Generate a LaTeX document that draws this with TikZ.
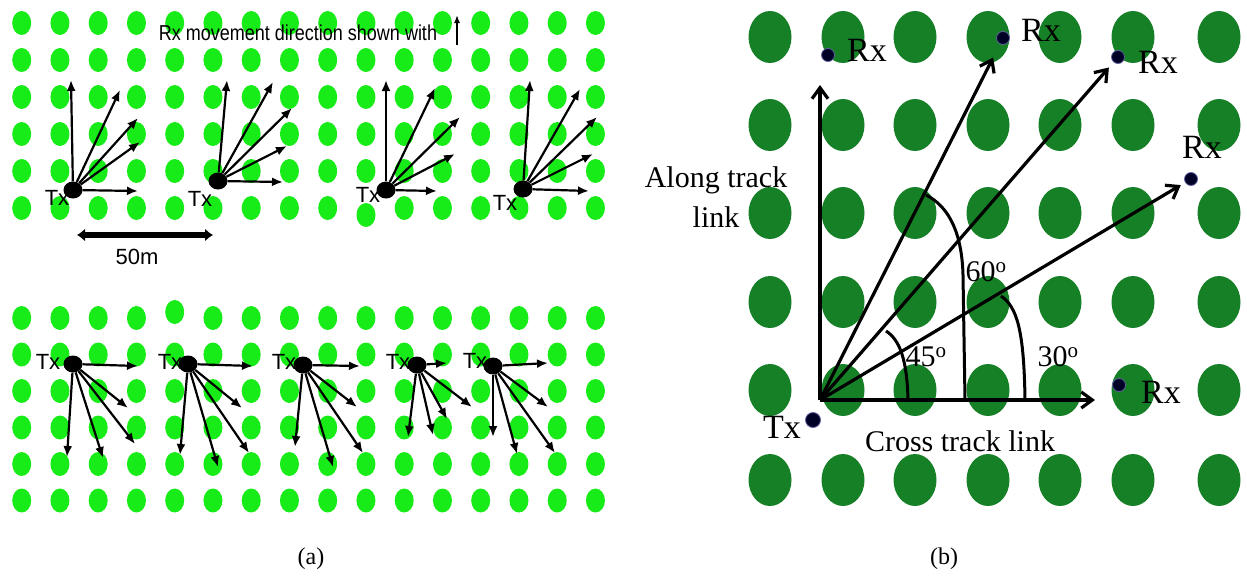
\documentclass[tikz,border=0pt]{standalone}
\usepackage{fontspec}
\setmainfont{Liberation Serif}
\newfontfamily\arialfont{Liberation Sans}
\usetikzlibrary{arrows.meta}
\definecolor{leafgreen}{RGB}{24,236,24}
\definecolor{treegreen}{RGB}{22,128,38}
\tikzset{
  txdot/.style={ellipse,fill=black,inner sep=0pt,minimum width=19pt,minimum height=17pt},
  rxdot/.style={circle,fill=black!85!blue,draw=blue!25!gray,line width=0.8pt,inner sep=0pt,minimum size=13pt},
  ray/.style={line width=2.2pt,-{Latex[length=11pt,width=9pt]}},
  axis/.style={line width=3.2pt,-{Straight Barb[length=11pt,width=16pt]}},
  arcline/.style={line width=3pt},
  smalltext/.style={font=\arialfont\fontsize{18}{20}\selectfont,inner sep=0pt},
  txtext/.style={font=\arialfont\fontsize{22}{24}\selectfont,inner sep=0pt},
  bigtext/.style={font=\fontsize{30}{40}\selectfont,inner sep=0pt},
  rxtext/.style={font=\fontsize{34}{40}\selectfont,inner sep=0pt},
  captext/.style={font=\fontsize{24}{28}\selectfont,inner sep=0pt}
}
\usetikzlibrary{shapes.geometric}
\begin{document}
\begin{tikzpicture}[x=1pt,y=-1pt]
\useasboundingbox (0,0) rectangle (1247,576);
% (a) upper field
\foreach \i in {0,...,15}
  \foreach \j in {0,...,4}
    \fill[leafgreen] (21.7+38.25*\i,23+37*\j) ellipse (9.5pt and 12pt);
\foreach \i in {0,...,8,10,11,...,15}
  \fill[leafgreen] (21.7+38.25*\i,208) ellipse (9.5pt and 12pt);
\fill[leafgreen] (366,215) ellipse (9.5pt and 12pt);
% (a) lower field
\foreach \i in {0,...,3,5,6,...,15}
  \fill[leafgreen] (21.7+38.25*\i,318) ellipse (9.5pt and 12pt);
\fill[leafgreen] (174.7,312) ellipse (9.5pt and 12pt);
\foreach \i in {0,...,15}
  \foreach \j in {1,...,5}
    \fill[leafgreen] (21.7+38.25*\i,318+36.5*\j) ellipse (9.5pt and 12pt);

% movement note
\node[smalltext,yscale=1.2] (note) at (298,33) {Rx movement direction shown with};
\coordinate (mvS) at (457,45);
\coordinate (mvE) at (457,15);
\draw[line width=1.5pt,-{Latex[length=8pt,width=6pt]}] (mvS) -- (mvE);

% upper transmitters
\node[txdot] (txa1) at (73,190) {};
\node[txtext] (txa1l) at (57,198) {Tx};
\foreach \n/\ex/\ey in {1/71/80, 2/120/90, 3/138/118, 4/140/142, 5/138/191}
  {\coordinate (ea1\n) at (\ex,\ey); \draw[ray] (txa1) -- (ea1\n);}
\node[txdot] (txa2) at (218,181) {};
\node[txtext] (txa2l) at (200,199) {Tx};
\foreach \n/\ex/\ey in {1/227/80, 2/273/82, 3/292/108, 4/287/146, 5/283/182}
  {\coordinate (ea2\n) at (\ex,\ey); \draw[ray] (txa2) -- (ea2\n);}
\node[txdot] (txa3) at (386,190) {};
\node[txtext] (txa3l) at (368,195) {Tx};
\foreach \n/\ex/\ey in {1/386/80, 2/435/88, 3/460/117, 4/455/154, 5/437/191}
  {\coordinate (ea3\n) at (\ex,\ey); \draw[ray] (txa3) -- (ea3\n);}
\node[txdot] (txa4) at (523,189) {};
\node[txtext] (txa4l) at (505,203) {Tx};
\foreach \n/\ex/\ey in {1/530/80, 2/580/89, 3/597/117, 4/593/154, 5/589/191}
  {\coordinate (ea4\n) at (\ex,\ey); \draw[ray] (txa4) -- (ea4\n);}

% scale bar
\coordinate (barL) at (77,235);
\coordinate (barR) at (213,235);
\draw[line width=5.5pt,{Latex[length=8pt,width=13pt]}-{Latex[length=8pt,width=13pt]}] (barL) -- (barR);
\node[txtext] (barlbl) at (137,257) {50m};

% lower transmitters
\node[txdot] (txb1) at (73,364) {};
\node[txtext] (txb1l) at (48,362) {Tx};
\foreach \n/\ex/\ey in {1/138/366, 2/128/408, 3/135/444, 4/103/458, 5/67/457}
  {\coordinate (eb1\n) at (\ex,\ey); \draw[ray] (txb1) -- (eb1\n);}
\node[txdot] (txb2) at (188,364) {};
\node[txtext] (txb2l) at (170,362) {Tx};
\foreach \n/\ex/\ey in {1/253/366, 2/242/408, 3/249/453, 4/218/467, 5/180/455}
  {\coordinate (eb2\n) at (\ex,\ey); \draw[ray] (txb2) -- (eb2\n);}
\node[txdot] (txb3) at (303,365) {};
\node[txtext] (txb3l) at (284,362) {Tx};
\foreach \n/\ex/\ey in {1/360/366, 2/357/407, 3/363/453, 4/333/467, 5/295/447}
  {\coordinate (eb3\n) at (\ex,\ey); \draw[ray] (txb3) -- (eb3\n);}
\node[txdot] (txb4) at (417,365) {};
\node[txtext] (txb4l) at (398,362) {Tx};
\foreach \n/\ex/\ey in {1/447/363, 2/472/407, 3/447/419, 4/433/435, 5/408/437}
  {\coordinate (eb4\n) at (\ex,\ey); \draw[ray] (txb4) -- (eb4\n);}
\node[txdot] (txb5) at (493,366) {};
\node[txtext] (txb5l) at (475,361) {Tx};
\foreach \n/\ex/\ey in {1/548/363, 2/548/407, 3/555/453, 4/517/454, 5/493/437}
  {\coordinate (eb5\n) at (\ex,\ey); \draw[ray] (txb5) -- (eb5\n);}

% (b) field
\foreach \x in {770,843,915,988,1060,1133,1219}
  \foreach \y in {37,125,213,302,390,480}
    \fill[treegreen] (\x,\y) ellipse (21.5pt and 26pt);

% axes
\coordinate (O) at (820,400);
\coordinate (alongEnd) at (820,85);
\coordinate (crossEnd) at (1095,400);
\draw[axis] (O) -- (alongEnd);
\draw[axis] (O) -- (crossEnd);

% receivers
\node[rxdot] (rx1) at (828,55) {};
\node[rxdot] (rx2) at (1003,38) {};
\node[rxdot] (rx3) at (1118,57) {};
\node[rxdot] (rx4) at (1191,179) {};
\node[rxdot] (rx5) at (1119,385) {};
\node[rxtext] (rx1l) at (867,50) {Rx};
\node[rxtext] (rx2l) at (1041,30) {Rx};
\node[rxtext] (rx3l) at (1158,62) {Rx};
\node[rxtext] (rx4l) at (1202,147) {Rx};
\node[rxtext] (rx5l) at (1161,392) {Rx};

% links at 60, 45 and 30 degrees
\draw[axis,shorten >=15pt] (O) -- (rx2);
\draw[axis,shorten >=7pt] (O) -- (rx3);
\draw[axis,shorten >=5pt] (O) -- (rx4);

% angle marks
\draw[arcline] (926,195) .. controls (950,207) and (962,235) .. (963,275) -- (965,400);
\draw[arcline] (886,331) .. controls (900,340) and (907,360) .. (908,400);
\draw[arcline] (1001,296) .. controls (1017,307) and (1024,330) .. (1025,400);
\node[bigtext] (a60) at (986,272) {60\textsuperscript{o}};
\node[bigtext] (a45) at (926,357) {45\textsuperscript{o}};
\node[bigtext] (a30) at (1058,357) {30\textsuperscript{o}};

% transmitter and axis names
\node[rxdot,minimum size=15pt] (tx) at (813,420) {};
\node[rxtext] (txl) at (782,427) {Tx};
\node[bigtext,align=center] (alongl) at (716,197) {Along track\\link};
\node[bigtext] (crossl) at (960,441) {Cross track link};

% captions
\node[captext] (capa) at (311,559) {(a)};
\node[captext] (capb) at (944,559) {(b)};
\end{tikzpicture}
\end{document}
